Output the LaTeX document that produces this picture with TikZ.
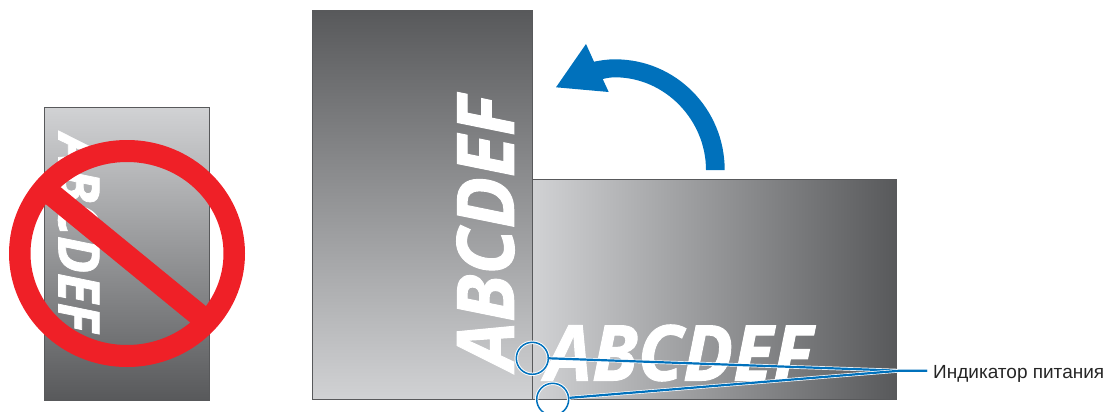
\documentclass[tikz,border=0pt]{standalone}
\usepackage{fontspec}
\setmainfont{Liberation Sans}
\newfontfamily\logofont[FakeBold=1.3,FakeStretch=0.96]{Open Sans}
\definecolor{panellight}{HTML}{D1D2D4}
\definecolor{paneldark}{HTML}{58595B}
\definecolor{edgegray}{HTML}{58595B}
\definecolor{ledblue}{HTML}{0071BC}
\definecolor{banred}{HTML}{EF2027}
\tikzset{
  panel/.style={draw=edgegray,line width=0.9pt},
  logo/.style={text=white,inner sep=0pt},
  led/.style={circle,draw=ledblue,line width=1.5pt,minimum size=32pt,inner sep=0pt,fill=none,
     preaction={draw=white,line width=3.4pt}},
  leader/.style={draw=ledblue,line width=2.2pt,preaction={draw=white,line width=3.6pt}},
}
\begin{document}
\begin{tikzpicture}[x=1pt,y=-1pt]
\useasboundingbox (0,0) rectangle (1108,412);
\clip (0,0) rectangle (1108,412);
% left forbidden panel
\path[panel,top color=panellight,bottom color=paneldark] (44.5,107.5) rectangle (209.5,400);
\node[logo,rotate=-90,font=\fontsize{57}{57}\logofont\bfseries\itshape] (logoa) at (79,233) {ABCDEF};
\fill[banred,even odd rule] (127,253.5) ellipse [x radius=118,y radius=113.5] (127,253.5) ellipse [x radius=96.5,y radius=91.5];
\fill[banred] (58,185) -- (207,307) -- (192,324) -- (43,202) -- cycle;
% main panels
\path[panel,top color=paneldark,bottom color=panellight] (312.5,10.5) rectangle (532.5,399.5);
\path[panel,left color=panellight,right color=paneldark] (532.5,179) rectangle (896,399.5);
\node[logo,rotate=90,font=\fontsize{79}{79}\logofont\bfseries\itshape] (logob) at (485.5,232.5) {ABCDEF};
\node[logo,font=\fontsize{77}{77}\logofont\bfseries\itshape] (logoc) at (679,353) {ABCDEF};
% rotation arrow
\fill[ledblue] (724.7,170) .. controls (724.7,109) and (676,59.3) .. (615,59.3)
  .. controls (607,59.3) and (600,60.5) .. (594,61.7) -- (586,44) -- (556,87.3) -- (608.7,92) -- (602.7,79)
  .. controls (607,78) and (611,77.3) .. (615,77.3)
  .. controls (665,77.3) and (706,120) .. (706,170) -- cycle;
% indicators
\node[led] (leda) at (532.3,358.3) {};
\node[led] (ledb) at (552.7,399.3) {};
\node[anchor=west,inner sep=0pt,font=\fontsize{19}{19}\selectfont,text=black!85] (label) at (933,373.5) {Индикатор питания};
\coordinate (tip) at (927,370.7);
\coordinate (join) at (900,370.7);
\draw[leader] (leda.east) -- (join) -- (tip);
\draw[leader] (ledb.east) ++(0,-1.5) -- (join) -- (tip);
\end{tikzpicture}
\end{document}
